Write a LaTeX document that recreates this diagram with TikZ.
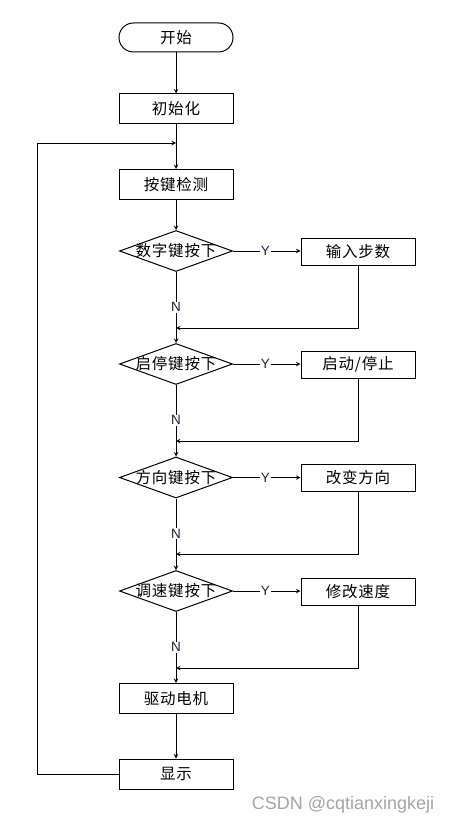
\documentclass[tikz,border=0pt]{standalone}
\usepackage{fontspec}
\setmainfont{Liberation Sans}
\newfontfamily\cjk{Noto Sans CJK SC}[LetterSpace=5]
\usetikzlibrary{shapes.geometric}
\definecolor{yncolor}{RGB}{30,30,70}
\definecolor{markgray}{RGB}{165,165,165}

\begin{document}
\begin{tikzpicture}[x=1pt,y=-1pt,>=stealth,line width=1pt,
	term/.style={draw,rectangle,rounded corners=14.5pt,minimum width=114pt,minimum height=29pt,inner sep=0pt,font=\cjk\fontsize{15.5}{15.5}\selectfont},
	proc/.style={draw,rectangle,minimum width=114pt,minimum height=30pt,inner sep=0pt,font=\cjk\fontsize{15.5}{15.5}\selectfont},
	side/.style={proc,minimum height=27pt},
	dec/.style={draw,diamond,minimum width=113pt,minimum height=41pt,inner sep=0pt,font=\cjk\fontsize{15.5}{15.5}\selectfont},
	yn/.style={fill=white,inner sep=1pt,text=yncolor,font=\fontsize{13.5}{13.5}\selectfont}]
	\useasboundingbox (0,0) rectangle (453,824);
	
	%main column
	\node[term] (start) at (176,37.5) {开始};
	\node[proc] (init)  at (176,109)  {初始化};
	\node[proc] (key)   at (176,184.5){按键检测};
	\node[dec]  (d1)    at (176,251)  {\makebox[0pt]{数字键按下}};
	\node[dec]  (d2)    at (176,364)  {\makebox[0pt]{启停键按下}};
	\node[dec]  (d3)    at (176,477.5){\makebox[0pt]{方向键按下}};
	\node[dec]  (d4)    at (176,591)  {\makebox[0pt]{调速键按下}};
	\node[proc] (drive) at (176,698.5){驱动电机};
	\node[proc] (show)  at (176,774)  {显示};
	
	%right column
	\node[side] (b1) at (358,251.5) {输入步数};
	\node[side] (b2) at (358,364.5) {启动/停止};
	\node[side] (b3) at (358,478)   {改变方向};
	\node[side] (b4) at (358,591.5) {修改速度};
	
	%join points
	\coordinate (j0) at (176,143);
	\coordinate (j1) at (176,328);
	\coordinate (j2) at (176,441);
	\coordinate (j3) at (176,554);
	\coordinate (j4) at (176,668);
	\coordinate (lp) at (37,143);		%top of the loop back
	
	%vertical arrows
	\draw[->] (start) -- (init);
	\draw (init) -- (j0);
	\draw[->] (j0) -- (key);
	\draw[->] (key) -- (d1);
	\draw (d1) -- node[yn,pos=0.63] {N} (j1);
	\draw[->] (j1) -- (d2);
	\draw (d2) -- node[yn,pos=0.63] {N} (j2);
	\draw[->] (j2) -- (d3);
	\draw (d3) -- node[yn,pos=0.63] {N} (j3);
	\draw[->] (j3) -- (d4);
	\draw (d4) -- node[yn,pos=0.63] {N} (j4);
	\draw[->] (j4) -- (drive);
	\draw[->] (drive) -- (show);
	
	%yes branches
	\draw[->] (d1.east) -- node[yn,pos=0.48] {Y} (b1.west |- d1.east);
	\draw[->] (d2.east) -- node[yn,pos=0.48] {Y} (b2.west |- d2.east);
	\draw[->] (d3.east) -- node[yn,pos=0.48] {Y} (b3.west |- d3.east);
	\draw[->] (d4.east) -- node[yn,pos=0.48] {Y} (b4.west |- d4.east);
	
	%returns
	\draw[->] (b1.south) |- (j1);
	\draw[->] (b2.south) |- (j2);
	\draw[->] (b3.south) |- (j3);
	\draw[->] (b4.south) |- (j4);
	
	%loop back
	\draw[->] (show.west) -| (lp) -- (j0);
	
	%watermark
	\node[text=markgray,font=\fontsize{18}{18}\selectfont] (mark) at (343,805) {CSDN @cqtianxingkeji};
\end{tikzpicture}
\end{document}
